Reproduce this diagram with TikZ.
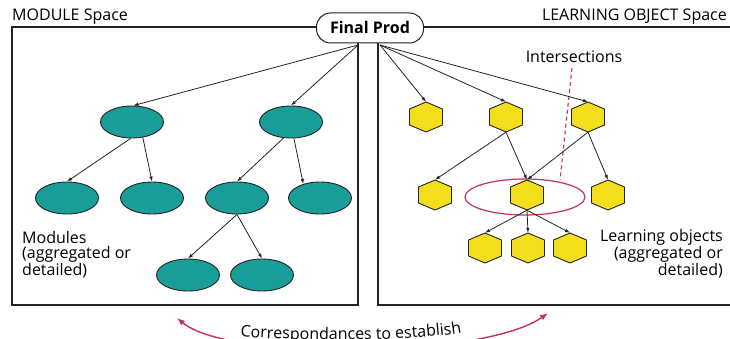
\documentclass[tikz,border=0pt]{standalone}
\usepackage{fontspec}
\setmainfont{Open Sans}
\usetikzlibrary{arrows.meta,shapes.geometric,decorations.text}
\definecolor{tealc}{RGB}{26,158,154}
\definecolor{hexy}{RGB}{242,222,26}
\definecolor{pinkc}{RGB}{198,48,98}
\definecolor{linec}{RGB}{35,35,35}
\tikzset{
  boxline/.style={draw=linec, line width=1.3pt},
  modnode/.style={ellipse, draw=linec, line width=0.9pt, fill=tealc, minimum width=63pt, minimum height=32pt, inner sep=0pt},
  hexbox/.style={rectangle, inner sep=0pt, minimum width=33pt, minimum height=30pt},
  hexdraw/.style={draw=linec, line width=0.9pt, fill=hexy, line join=miter},
  conn/.style={draw=linec, line width=0.8pt, -{Latex[length=5pt,width=3.5pt]}},
  prodnode/.style={rectangle, rounded corners=14pt, draw=linec, line width=1pt, fill=white, minimum width=107pt, minimum height=30pt, inner sep=0pt},
  lbl/.style={inner sep=0pt, font=\fontsize{16}{15.5}\selectfont},
}
\newcommand\HexAt[3]{%
  \node[hexbox] (#1) at (#2,#3) {};
  \draw[hexdraw] (#1.center) ++(0,-15) -- ++(16.5,7) -- ++(0,16) -- ++(-16.5,7) -- ++(-16.5,-7) -- ++(0,-16) -- cycle;}
\begin{document}
\begin{tikzpicture}[x=1pt,y=-1pt]
\useasboundingbox (0,0) rectangle (730,339);
% boxes
\draw[boxline] (12,27) rectangle (358,305);
\draw[boxline] (734,27) -- (378,27) -- (378,305) -- (734,305);
% titles
\node[lbl, anchor=base west] (modspace) at (12,21) {MODULE Space};
\node[lbl, anchor=base east] (lospace) at (727,21) {LEARNING OBJECT Space};
\node[prodnode, font=\fontsize{16}{18}\selectfont\bfseries] (fp) at (370,28) {Final Prod};
\coordinate (fpL) at (358,45);
\coordinate (fpR) at (380,45);
% modules
\node[modnode] (m1) at (132,122) {};
\node[modnode] (m2) at (291,122) {};
\node[modnode] (m3) at (67,198) {};
\node[modnode] (m4) at (152,198) {};
\node[modnode] (m5) at (237,198) {};
\node[modnode] (m6) at (320,198) {};
\node[modnode] (m7) at (188,275) {};
\node[modnode] (m8) at (262,275) {};
% hexagons
\HexAt{h1}{426}{117}
\HexAt{h2}{506}{117}
\HexAt{h3}{588}{117}
\HexAt{h4}{435}{195}
\HexAt{h5}{527}{195}
\HexAt{h6}{608}{195}
\HexAt{h7}{485}{248}
\HexAt{h8}{528}{248}
\HexAt{h9}{570}{248}
% intersection ellipse
\node[ellipse, draw=pinkc, line width=1.2pt, minimum width=120pt, minimum height=36pt] (inter) at (525,197) {};
% labels
\node[lbl] (intlbl) at (574,57) {Intersections};
\coordinate (intend) at (560,180);
\draw[pinkc, line width=1.1pt, dash pattern=on 4pt off 3pt] (572,68) -- (intend);
\node[lbl, anchor=north west, align=left] (modlbl) at (22,231) {Modules\\(aggregated or\\detailed)};
\node[lbl, anchor=north east, align=right] (lolbl) at (723,229) {Learning objects\\(aggregated or\\detailed)};
% connectors modules
\draw[conn] (fpL) -- (m1.85);
\draw[conn] (fpL) -- (m2.north);
\draw[conn] (m1.-95) -- (m3.north);
\draw[conn] (m1.-55) -- (m4.north);
\draw[conn] (m2.-115) -- (m5.north);
\draw[conn] (m2.-80) -- (m6.140);
\draw[conn] (m5.south) -- (m7.north);
\draw[conn] (m5.south) -- (m8.north);
% connectors LO
\draw[conn] (fpR) -- (h1.north);
\draw[conn] (fpR) -- (h2.north);
\draw[conn] (fpR) -- (h3.north);
\draw[conn] (h2.south) -- (h4.north);
\draw[conn] (h2.south) -- (h5.north);
\draw[conn] (h3.south) -- (h5.north);
\draw[conn] (h3.south) -- (h6.north);
\draw[conn] (h5.south) -- (h7.north);
\draw[conn] (h5.south) -- (h8.north);
\draw[conn] (h5.south) -- (h9.north);
% correspondances
\coordinate (cL) at (177,318);
\coordinate (cR) at (548,313);
\draw[pinkc, line width=1.4pt, {Latex[length=8pt,width=6pt]}-{Latex[length=8pt,width=6pt]}] (cL) .. controls (230,362) and (485,358) .. (cR);
\path[decorate, decoration={text along path, text={|\fontsize{16}{18}\selectfont|Correspondances to establish}, text align=center, text color=black}] (236,336) .. controls (300,342) and (420,341) .. (466,332);
\end{tikzpicture}
\end{document}
